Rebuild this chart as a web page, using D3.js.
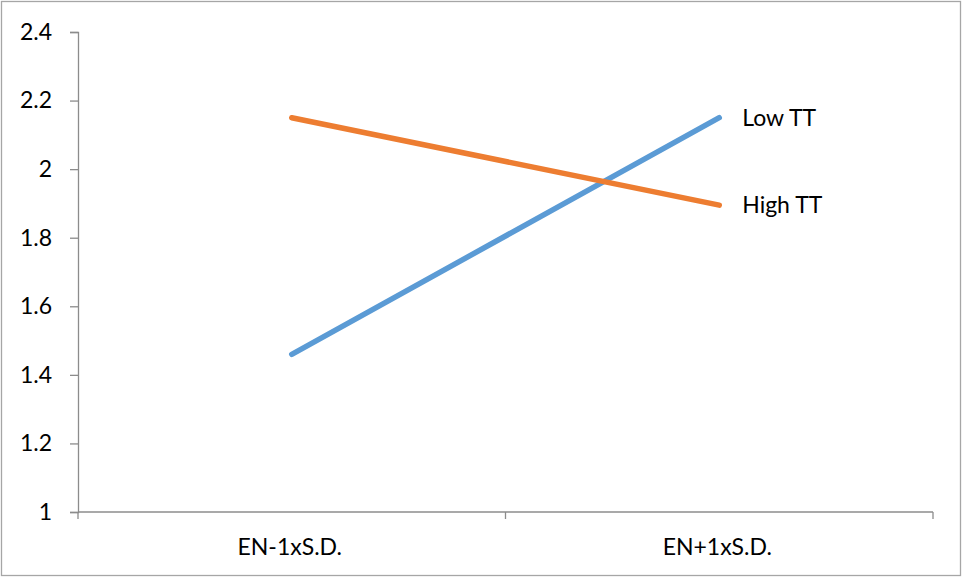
<!DOCTYPE html>
<html>
<head>
<meta charset="utf-8">
<script src="https://cdn.jsdelivr.net/npm/d3@7"></script>
<style>
  html, body { margin: 0; padding: 0; background: #fff; }
  svg { display: block; }
  text { font-family: Lato, "Open Sans", sans-serif; fill: #000; }
</style>
</head>
<body>
<svg id="chart" width="962" height="577"></svg>
<script>
// ---- data ----
const categories = ["EN-1xS.D.", "EN+1xS.D."];
const seriesNames = ["Low TT", "High TT"];
const lowTT = [1.46, 2.15];
const highTT = [2.15, 1.895];
const yTicks = [1, 1.2, 1.4, 1.6, 1.8, 2, 2.2, 2.4];
const yTickLabels = ["1", "1.2", "1.4", "1.6", "1.8", "2", "2.2", "2.4"];
const colors = ["#5b9bd5", "#ed7d31"];

const series = [
  { name: seriesNames[0], values: lowTT, color: colors[0] },
  { name: seriesNames[1], values: highTT, color: colors[1] }
];

const svg = d3.select("#chart");
const W = 962, H = 577;
const m = { left: 78, right: 29, top: 32, bottom: 65 };

// chart border
svg.append("rect")
  .attr("x", 1.5).attr("y", 1.5)
  .attr("width", W - 3).attr("height", H - 3)
  .attr("fill", "#fff").attr("stroke", "#a6a6a6").attr("stroke-width", 1.3);

const x = d3.scaleBand().domain(categories).range([m.left, W - m.right]).paddingInner(0).paddingOuter(0);
const y = d3.scaleLinear().domain([1, 2.4]).range([H - m.bottom, m.top]);

const axisColor = "#8c8c8c";

// y axis
const yAxis = svg.append("g").attr("transform", `translate(${m.left},0)`)
  .call(d3.axisLeft(y).tickValues(yTicks).tickFormat((d, i) => yTickLabels[i]).tickSize(8).tickPadding(18));
yAxis.select(".domain").attr("stroke", axisColor).attr("stroke-width", 1.3);
yAxis.selectAll(".tick line").attr("stroke", axisColor).attr("stroke-width", 1.3);
yAxis.selectAll(".tick text").attr("font-size", 23).attr("font-family", "Lato, sans-serif").attr("fill", "#000");

// x axis
const xAxisG = svg.append("g").attr("transform", `translate(0,${y(1)})`);
xAxisG.append("line")
  .attr("x1", m.left).attr("x2", W - m.right)
  .attr("stroke", axisColor).attr("stroke-width", 1.3);
const boundaries = [x(categories[0]), x(categories[1]), x(categories[1]) + x.bandwidth()];
xAxisG.selectAll("line.tk").data(boundaries).join("line")
  .attr("class", "tk")
  .attr("x1", d => d).attr("x2", d => d)
  .attr("y1", 0).attr("y2", 7)
  .attr("stroke", axisColor).attr("stroke-width", 1.3);
xAxisG.selectAll("text").data(categories).join("text")
  .attr("x", d => x(d) + x.bandwidth() / 2 - 2)
  .attr("y", 43)
  .attr("text-anchor", "middle")
  .attr("font-size", 23)
  .text(d => d);

// lines
const cx = c => x(c) + x.bandwidth() / 2;
const line = d3.line().x((d, i) => cx(categories[i])).y(d => y(d));

svg.selectAll("path.series").data(series).join("path")
  .attr("class", "series")
  .attr("d", d => line(d.values))
  .attr("fill", "none")
  .attr("stroke", d => d.color)
  .attr("stroke-width", 5.5)
  .attr("stroke-linecap", "round")
  .attr("stroke-linejoin", "round");

// end labels
svg.selectAll("text.lbl").data(series).join("text")
  .attr("class", "lbl")
  .attr("x", cx(categories[1]) + 23)
  .attr("y", d => y(d.values[1]))
  .attr("dy", "0.35em")
  .attr("font-size", 23)
  .text(d => d.name);
</script>
</body>
</html>
